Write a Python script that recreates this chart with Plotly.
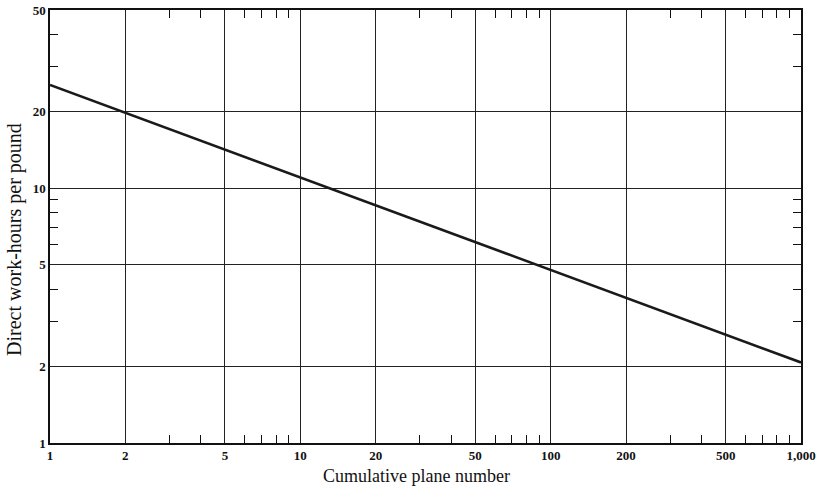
import plotly.graph_objects as go

# Learning curve (straight line on log-log)
plane_number = [1, 1000]
work_hours = [25.4, 2.07]

x_major = [1, 2, 5, 10, 20, 50, 100, 200, 500, 1000]
x_labels = ["1", "2", "5", "10", "20", "50", "100", "200", "500", "1,000"]
x_minor = [3, 4, 6, 7, 8, 9, 30, 40, 60, 70, 80, 90, 300, 400, 600, 700, 800, 900]
y_major = [1, 2, 5, 10, 20, 50]
y_labels = ["1", "2", "5", "10", "20", "50"]
y_minor = [3, 4, 6, 7, 8, 9, 30, 40]

x_title = "Cumulative plane number"
y_title = "Direct work-hours per pound"

font_family = "Liberation Serif, DejaVu Serif, serif"

fig = go.Figure()
fig.add_trace(go.Scatter(x=plane_number, y=work_hours, mode="lines",
                         line=dict(color="#1a1a1a", width=2.6), showlegend=False))

fig.update_xaxes(type="log", range=[0, 3], tickmode="array", tickvals=x_major, ticktext=x_labels,
                 ticks="", showgrid=True, gridcolor="#222222", gridwidth=1,
                 showline=True, linecolor="#111111", linewidth=1.5, mirror="allticks",
                 tickfont=dict(family=font_family, size=13, color="#111111", weight="bold"),
                 minor=dict(tickmode="array", tickvals=x_minor, ticks="inside", ticklen=8,
                            tickcolor="#111111", tickwidth=1, showgrid=False),
                 automargin=False, zeroline=False)
fig.update_yaxes(type="log", range=[0, 1.699], tickmode="array", tickvals=y_major, ticktext=y_labels,
                 ticks="", showgrid=True, gridcolor="#222222", gridwidth=1,
                 showline=True, linecolor="#111111", linewidth=1.5, mirror="allticks",
                 tickfont=dict(family=font_family, size=13, color="#111111", weight="bold"),
                 minor=dict(tickmode="array", tickvals=y_minor, ticks="inside", ticklen=8,
                            tickcolor="#111111", tickwidth=1, showgrid=False),
                 automargin=False, zeroline=False)

fig.add_annotation(text=x_title, xref="paper", yref="paper", x=0.488, y=-0.077,
                   xanchor="center", yanchor="middle", showarrow=False,
                   font=dict(family=font_family, size=18, color="#111111"))
fig.add_annotation(text=y_title, xref="paper", yref="paper", x=-0.0466, y=0.469,
                   xanchor="center", yanchor="middle", showarrow=False, textangle=-90,
                   font=dict(family=font_family, size=20, color="#111111"))

fig.update_layout(width=823, height=489, margin=dict(l=50, r=22, t=10, b=46),
                  plot_bgcolor="white", paper_bgcolor="white")

fig.write_html("out.html")
